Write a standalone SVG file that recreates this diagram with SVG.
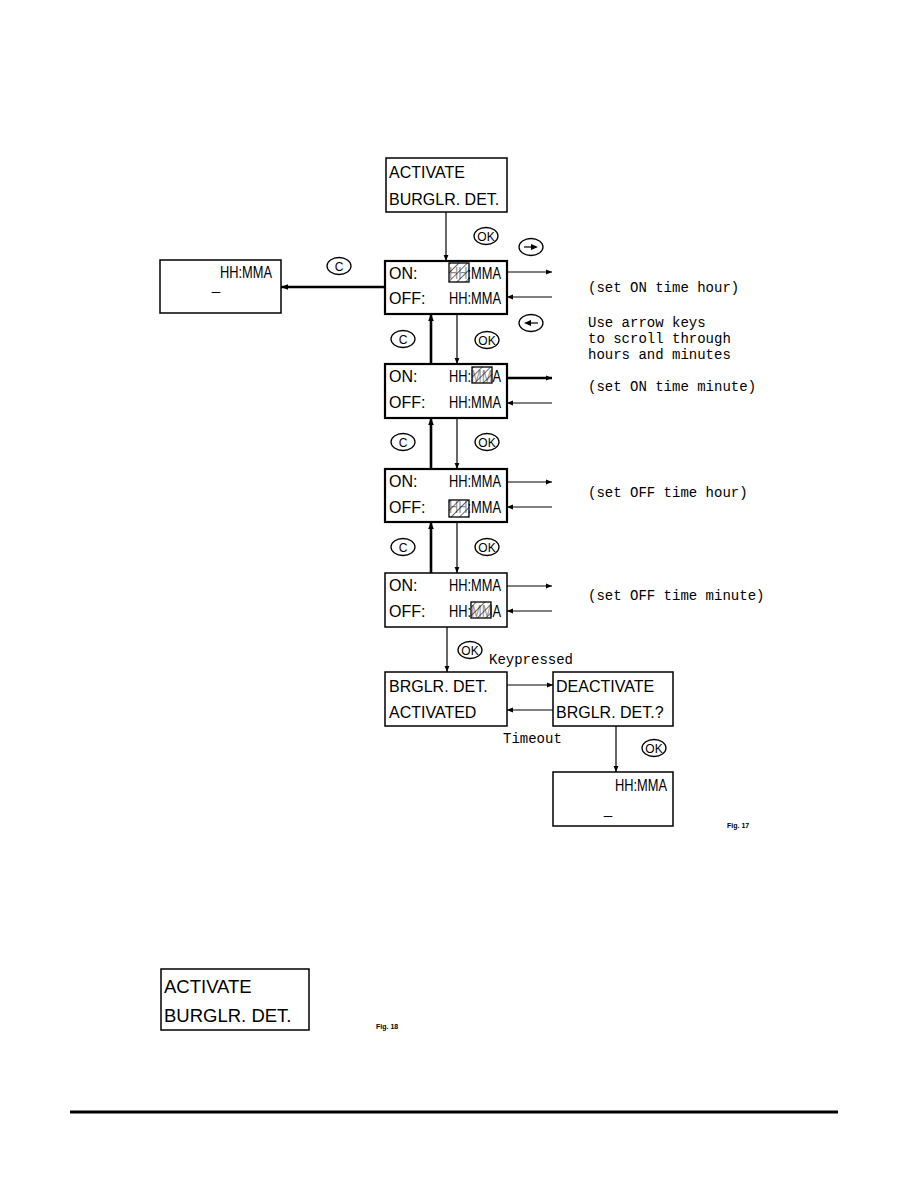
<svg xmlns="http://www.w3.org/2000/svg" width="918" height="1188" viewBox="0 0 918 1188">
<style>
.box{fill:none;stroke:#000;stroke-width:1.5}
.bx2{fill:none;stroke:#000;stroke-width:2.2}
.lcd{font-family:"Liberation Sans",Arial,sans-serif;font-size:16px;fill:#000}
.lcd2{font-family:"Liberation Sans",Arial,sans-serif;font-size:18.5px;fill:#000}
.us{font-family:"Liberation Mono",monospace;font-size:11px;fill:#000;stroke:#000;stroke-width:0.4}
.note{font-family:"Liberation Mono","DejaVu Sans Mono",monospace;font-size:14px;fill:#000}
.key{fill:#fff;stroke:#000;stroke-width:1.3}
.keyt{font-family:"Liberation Sans",Arial,sans-serif;font-size:12px;fill:#000;text-anchor:middle}
.fig{font-family:"Liberation Sans",Arial,sans-serif;font-size:7px;font-weight:bold;fill:#000}
.thin{stroke:#000;stroke-width:1.2;fill:none}
.thick{stroke:#000;stroke-width:2.6;fill:none}
.hatch{fill:url(#hp);stroke:#000;stroke-width:1.3}
</style>
<defs>
<marker id="ah" viewBox="0 0 10 10" refX="10" refY="5" markerWidth="13" markerHeight="6" markerUnits="userSpaceOnUse" orient="auto"><path d="M0,1 L10,5 L0,9 z" fill="#000"/></marker>
<marker id="ahb" viewBox="0 0 10 10" refX="10" refY="5" markerWidth="13" markerHeight="7" markerUnits="userSpaceOnUse" orient="auto"><path d="M0,1 L10,5 L0,9 z" fill="#000"/></marker>
<pattern id="hp" patternUnits="userSpaceOnUse" width="6" height="6" patternTransform="rotate(45)"><rect width="6" height="6" fill="#fff" fill-opacity="0.55"/><line x1="0" y1="0" x2="0" y2="6" stroke="#000" stroke-width="1.2"/></pattern>
</defs>
<rect width="918" height="1188" fill="#fff"/>

<g id="n-activate">
<rect class="box" x="386" y="158" width="121" height="54"/>
<text class="lcd" x="389" y="178">ACTIVATE</text>
<text class="lcd" x="389" y="205">BURGLR. DET.</text>
</g>

<g id="n-onhour">
<rect class="bx2" x="385" y="261" width="122" height="53"/>
<text class="lcd" x="389" y="279">ON:</text>
<text class="lcd" x="449" y="279" textLength="52" lengthAdjust="spacingAndGlyphs">HH:MMA</text>
<text class="lcd" x="389" y="304">OFF:</text>
<text class="lcd" x="449" y="304" textLength="52" lengthAdjust="spacingAndGlyphs">HH:MMA</text>
<rect class="hatch" x="449" y="263" width="20" height="19"/>
</g>

<g id="n-left">
<rect class="box" x="160" y="260" width="121" height="53"/>
<text class="lcd" x="220" y="278" textLength="52" lengthAdjust="spacingAndGlyphs">HH:MMA</text>
<text class="us" x="212" y="292" textLength="8" lengthAdjust="spacingAndGlyphs">_</text>
</g>

<g id="n-onmin">
<rect class="bx2" x="385" y="364" width="122" height="54"/>
<text class="lcd" x="389" y="382">ON:</text>
<text class="lcd" x="449" y="382" textLength="52" lengthAdjust="spacingAndGlyphs">HH:MMA</text>
<text class="lcd" x="389" y="408">OFF:</text>
<text class="lcd" x="449" y="408" textLength="52" lengthAdjust="spacingAndGlyphs">HH:MMA</text>
<rect class="hatch" x="472" y="367" width="20" height="16"/>
</g>

<g id="n-offhour">
<rect class="bx2" x="385" y="469" width="122" height="53"/>
<text class="lcd" x="389" y="487">ON:</text>
<text class="lcd" x="449" y="487" textLength="52" lengthAdjust="spacingAndGlyphs">HH:MMA</text>
<text class="lcd" x="389" y="513">OFF:</text>
<text class="lcd" x="449" y="513" textLength="52" lengthAdjust="spacingAndGlyphs">HH:MMA</text>
<rect class="hatch" x="449" y="500" width="20" height="17"/>
</g>

<g id="n-offmin">
<rect class="box" x="385" y="573" width="122" height="54"/>
<text class="lcd" x="389" y="591">ON:</text>
<text class="lcd" x="449" y="591" textLength="52" lengthAdjust="spacingAndGlyphs">HH:MMA</text>
<text class="lcd" x="389" y="617">OFF:</text>
<text class="lcd" x="449" y="617" textLength="52" lengthAdjust="spacingAndGlyphs">HH:MMA</text>
<rect class="hatch" x="471" y="602" width="20" height="16"/>
</g>

<g id="n-activated">
<rect class="box" x="385" y="672" width="122" height="54"/>
<text class="lcd" x="389" y="692">BRGLR. DET.</text>
<text class="lcd" x="389" y="718">ACTIVATED</text>
</g>

<g id="n-deactivate">
<rect class="box" x="553" y="672" width="120" height="54"/>
<text class="lcd" x="556" y="692">DEACTIVATE</text>
<text class="lcd" x="556" y="718">BRGLR. DET.?</text>
</g>

<g id="n-final">
<rect class="box" x="553" y="772" width="120" height="54"/>
<text class="lcd" x="615" y="791" textLength="52" lengthAdjust="spacingAndGlyphs">HH:MMA</text>
<text class="us" x="604" y="816" textLength="8" lengthAdjust="spacingAndGlyphs">_</text>
</g>

<g id="n-fig18box">
<rect class="box" x="161" y="969" width="148" height="61"/>
<text class="lcd2" x="164" y="993">ACTIVATE</text>
<text class="lcd2" x="164" y="1022">BURGLR. DET.</text>
</g>

<g id="connectors">
<line class="thin" x1="446" y1="212" x2="446" y2="261" marker-end="url(#ah)"/>
<line class="thick" x1="385" y1="287" x2="281" y2="287" marker-end="url(#ahb)"/>
<line class="thin" x1="507" y1="272" x2="552" y2="272" marker-end="url(#ah)"/>
<line class="thin" x1="552" y1="297" x2="507" y2="297" marker-end="url(#ah)"/>
<line class="thick" x1="431" y1="364" x2="431" y2="314" marker-end="url(#ahb)"/>
<line class="thin" x1="457" y1="314" x2="457" y2="364" marker-end="url(#ah)"/>
<line class="thick" x1="507" y1="378" x2="552" y2="378" stroke-width="1.8" marker-end="url(#ah)"/>
<line class="thin" x1="552" y1="403" x2="507" y2="403" marker-end="url(#ah)"/>
<line class="thick" x1="431" y1="469" x2="431" y2="418" marker-end="url(#ahb)"/>
<line class="thin" x1="457" y1="418" x2="457" y2="469" marker-end="url(#ah)"/>
<line class="thin" x1="507" y1="482" x2="552" y2="482" marker-end="url(#ah)"/>
<line class="thin" x1="552" y1="507" x2="507" y2="507" marker-end="url(#ah)"/>
<line class="thick" x1="431" y1="573" x2="431" y2="522" marker-end="url(#ahb)"/>
<line class="thin" x1="457" y1="522" x2="457" y2="573" marker-end="url(#ah)"/>
<line class="thin" x1="507" y1="586" x2="552" y2="586" marker-end="url(#ah)"/>
<line class="thin" x1="552" y1="611" x2="507" y2="611" marker-end="url(#ah)"/>
<line class="thin" x1="447" y1="627" x2="447" y2="672" marker-end="url(#ah)"/>
<line class="thin" x1="507" y1="685" x2="553" y2="685" marker-end="url(#ah)"/>
<line class="thin" x1="553" y1="710" x2="507" y2="710" marker-end="url(#ah)"/>
<line class="thin" x1="616" y1="726" x2="616" y2="772" marker-end="url(#ah)"/>
</g>

<g id="keys">
<ellipse class="key" cx="486" cy="236" rx="12" ry="8.5"/><text class="keyt" x="486" y="240.5">OK</text>
<ellipse class="key" cx="531" cy="247" rx="12" ry="8.5"/><line x1="524" y1="247" x2="533" y2="247" stroke="#000" stroke-width="1.2"/><path d="M531,244 L538,247 L531,250 z" fill="#000"/>
<ellipse class="key" cx="339" cy="266" rx="12" ry="8.5"/><text class="keyt" x="339" y="270.5">C</text>
<ellipse class="key" cx="531" cy="323" rx="12" ry="8.5"/><line x1="529" y1="323" x2="538" y2="323" stroke="#000" stroke-width="1.2"/><path d="M531,320 L524,323 L531,326 z" fill="#000"/>
<ellipse class="key" cx="403" cy="339" rx="12" ry="8.5"/><text class="keyt" x="403" y="343.5">C</text>
<ellipse class="key" cx="487" cy="340" rx="12" ry="8.5"/><text class="keyt" x="487" y="344.5">OK</text>
<ellipse class="key" cx="403" cy="442" rx="12" ry="8.5"/><text class="keyt" x="403" y="446.5">C</text>
<ellipse class="key" cx="487" cy="442" rx="12" ry="8.5"/><text class="keyt" x="487" y="446.5">OK</text>
<ellipse class="key" cx="403" cy="547" rx="12" ry="8.5"/><text class="keyt" x="403" y="551.5">C</text>
<ellipse class="key" cx="487" cy="547" rx="12" ry="8.5"/><text class="keyt" x="487" y="551.5">OK</text>
<ellipse class="key" cx="470" cy="650" rx="12" ry="8.5"/><text class="keyt" x="470" y="654.5">OK</text>
<ellipse class="key" cx="654" cy="748" rx="12" ry="8.5"/><text class="keyt" x="654" y="752.5">OK</text>
</g>

<g id="labels">
<text class="note" x="588" y="292">(set ON time hour)</text>
<text class="note" x="588" y="327">Use arrow keys</text>
<text class="note" x="588" y="343">to scroll through</text>
<text class="note" x="588" y="359">hours and minutes</text>
<text class="note" x="588" y="391">(set ON time minute)</text>
<text class="note" x="588" y="497">(set OFF time hour)</text>
<text class="note" x="588" y="600">(set OFF time minute)</text>
<text class="note" x="489" y="664">Keypressed</text>
<text class="note" x="503" y="743">Timeout</text>
<text class="fig" x="727" y="828">Fig. 17</text>
<text class="fig" x="376" y="1029">Fig. 18</text>
</g>

<line x1="70" y1="1112" x2="838" y2="1112" stroke="#000" stroke-width="3"/>
</svg>
